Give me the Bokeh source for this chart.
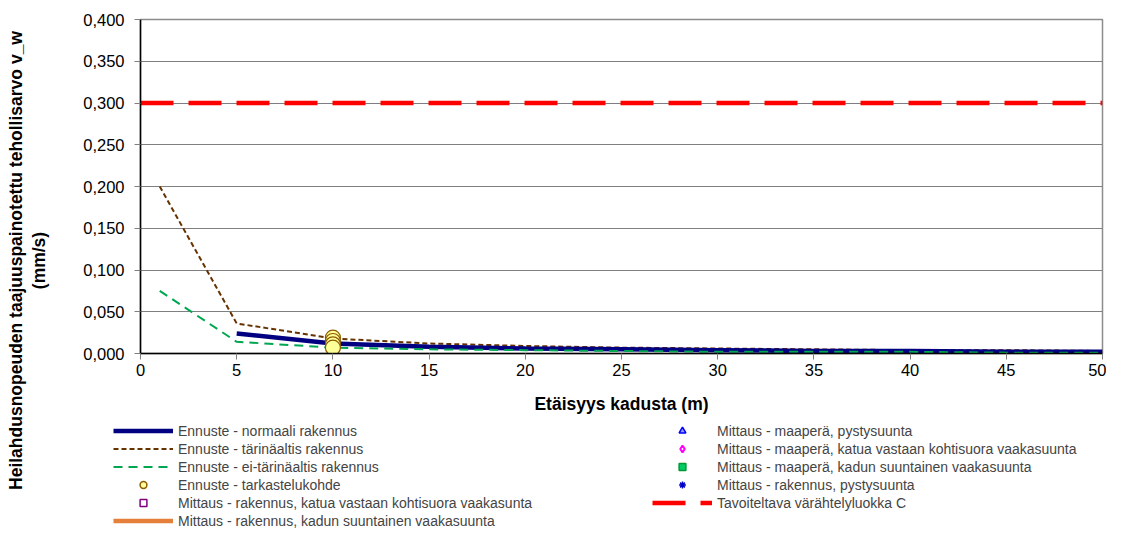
import math
import numpy as np
from bokeh.plotting import figure
from bokeh.layouts import row, column
from bokeh.models import (Range1d, FixedTicker, CustomJSTickFormatter, Legend, LegendItem, Label)
from bokeh.embed import file_html
from bokeh.resources import INLINE

# ---------------- data ----------------
x_pts = [1, 5, 10, 15, 20, 25, 30, 35, 40, 45, 50]
tarinaaltis = [0.200, 0.036, 0.018, 0.012, 0.009, 0.007, 0.006, 0.005, 0.004, 0.004, 0.003]
ei_tarinaaltis = [0.075, 0.014, 0.007, 0.005, 0.004, 0.003, 0.002, 0.002, 0.002, 0.001, 0.001]
normaali_x = [5, 10, 15, 20, 25, 30, 35, 40, 45, 50]
normaali = [0.024, 0.012, 0.008, 0.006, 0.005, 0.004, 0.003, 0.003, 0.002, 0.002]
kohde_x = [10, 10, 10, 10]
kohde_y = [0.019, 0.015, 0.011, 0.007]
tavoite_x = [0, 50]
tavoite_y = [0.3, 0.3]
# measurement series (no points visible in the chart)
maapera_pysty_x, maapera_pysty_y = [], []
maapera_kohtisuora_x, maapera_kohtisuora_y = [], []
maapera_suuntainen_x, maapera_suuntainen_y = [], []
rakennus_pysty_x, rakennus_pysty_y = [], []
rakennus_kohtisuora_x, rakennus_kohtisuora_y = [], []
rakennus_suuntainen_x, rakennus_suuntainen_y = [], []

x_ticks = [0, 5, 10, 15, 20, 25, 30, 35, 40, 45, 50]
y_ticks = [0.0, 0.05, 0.1, 0.15, 0.2, 0.25, 0.3, 0.35, 0.4]

x_title = "Etäisyys kadusta (m)"
y_title = "Heilahdusnopeuden taajuuspainotettu tehollisarvo v_w\n(mm/s)"

legend_col1 = ["Ennuste - normaali rakennus",
               "Ennuste - tärinäaltis rakennus",
               "Ennuste - ei-tärinäaltis rakennus",
               "Ennuste - tarkastelukohde",
               "Mittaus - rakennus, katua vastaan kohtisuora vaakasunta",
               "Mittaus - rakennus, kadun suuntainen vaakasuunta"]
legend_col2 = ["Mittaus - maaperä, pystysuunta",
               "Mittaus - maaperä, katua vastaan kohtisuora vaakasuunta",
               "Mittaus - maaperä, kadun suuntainen vaakasuunta",
               "Mittaus - rakennus, pystysuunta",
               "Tavoiteltava värähtelyluokka C"]

FONT = "Liberation Sans"
W_TITLE = 58
W_MAIN = 1106 - W_TITLE
H_MAIN = 420
H_LEG = 529 - H_MAIN

# styles
S_TAV = dict(line_color="#ff0000", line_width=4.5, line_dash="33 15")
S_TAR = dict(line_color="#663300", line_width=2, line_dash="5 3")
S_NORM = dict(line_color="#000080", line_width=4.5)
S_EI = dict(line_color="#00a650", line_width=2, line_dash="9 6")
S_RKS = dict(line_color="#e5803a", line_width=4.5)
S_KOH_LEG = dict(marker="circle", size=7, fill_color="#ffff99", line_color="#8c5a00", line_width=1.5)
S_MPP = dict(marker="triangle", size=8, fill_color="#9999ff", line_color="#0000ff", line_width=1.5)
S_MPK = dict(marker="diamond", size=11, fill_color="white", line_color="#ff00ff", line_width=2)
S_MPS = dict(marker="square", size=7, fill_color="#00cc66", line_color="#009933", line_width=1.5)
S_RKP = dict(marker="asterisk", size=9, line_color="#0000cc", line_width=1.5)
S_RKK = dict(marker="square", size=7, fill_color="white", line_color="#800080", line_width=1.5)

# ---------------- main plot ----------------
p = figure(width=W_MAIN, height=H_MAIN, output_backend="svg", toolbar_location=None,
           x_range=Range1d(0, 50), y_range=Range1d(0, 0.4),
           min_border_left=140 - W_TITLE, min_border_right=4, min_border_top=19,
           min_border_bottom=H_MAIN - 353)
p.frame_align = False
p.background_fill_color = "white"
p.border_fill_color = "white"
p.outline_line_color = "#8c8c8c"
p.outline_line_width = 1.5

p.xgrid.visible = False
p.ygrid.grid_line_color = "#808080"
p.ygrid.grid_line_width = 1

p.xaxis.ticker = FixedTicker(ticks=x_ticks)
p.yaxis.ticker = FixedTicker(ticks=y_ticks)
p.yaxis.formatter = CustomJSTickFormatter(code="return tick.toFixed(3).replace('.', ',');")
for ax in (p.xaxis, p.yaxis):
    ax.axis_line_color = "black"
    ax.axis_line_width = 1.5
    ax.major_tick_line_color = "#808080"
    ax.major_tick_out = 6
    ax.major_tick_in = 0
    ax.minor_tick_line_color = None
    ax.major_label_text_font = FONT
    ax.major_label_text_font_size = "16.5px"
    ax.major_label_text_color = "black"
p.yaxis.major_label_standoff = 10
p.xaxis.major_label_standoff = 4
p.xaxis.axis_label = x_title
p.xaxis.axis_label_text_font = FONT
p.xaxis.axis_label_text_font_size = "17.5px"
p.xaxis.axis_label_text_font_style = "bold"
p.xaxis.axis_label_text_color = "black"
p.xaxis.axis_label_standoff = 15

p.line(tavoite_x, tavoite_y, **S_TAV)
p.line(x_pts, tarinaaltis, **S_TAR)
p.line(normaali_x, normaali, **S_NORM)
p.line(x_pts, ei_tarinaaltis, **S_EI)
p.scatter(kohde_x, kohde_y, size=15, marker="circle", fill_color="#ffff99",
          line_color="#8c5a00", line_width=1.2)
p.scatter(maapera_pysty_x, maapera_pysty_y, **S_MPP)
p.scatter(maapera_kohtisuora_x, maapera_kohtisuora_y, **S_MPK)
p.scatter(maapera_suuntainen_x, maapera_suuntainen_y, **S_MPS)
p.scatter(rakennus_pysty_x, rakennus_pysty_y, **S_RKP)
p.scatter(rakennus_kohtisuora_x, rakennus_kohtisuora_y, **S_RKK)
p.line(rakennus_suuntainen_x, rakennus_suuntainen_y, **S_RKS)

# ---------------- legend figure (legend keys only; placeholder rows are NaN, not drawn) ----------------
lf = figure(width=W_MAIN, height=H_LEG, output_backend="svg", toolbar_location=None,
            x_axis_location=None, y_axis_location=None,
            x_range=Range1d(0, 1), y_range=Range1d(0, 1),
            min_border_left=0, min_border_right=0, min_border_top=0, min_border_bottom=0)
lf.frame_align = False
lf.outline_line_color = None
lf.xgrid.visible = False
lf.ygrid.visible = False

nan1 = np.array([np.nan])
l_norm = lf.line(nan1, nan1, **S_NORM)
l_tar = lf.line(nan1, nan1, **S_TAR)
l_ei = lf.line(nan1, nan1, **S_EI)
l_koh = lf.scatter(nan1, nan1, **S_KOH_LEG)
l_rkk = lf.scatter(nan1, nan1, **S_RKK)
l_rks = lf.line(nan1, nan1, **S_RKS)
l_mpp = lf.scatter(nan1, nan1, **S_MPP)
l_mpk = lf.scatter(nan1, nan1, **S_MPK)
l_mps = lf.scatter(nan1, nan1, **S_MPS)
l_rkp = lf.scatter(nan1, nan1, **S_RKP)
l_tav = lf.line(nan1, nan1, **S_TAV)

ROW = 17
SP = 1

def make_legend(labels, rends, loc):
    return Legend(items=[LegendItem(label=t, renderers=[r]) for t, r in zip(labels, rends)],
                  location=loc, orientation="vertical",
                  glyph_width=60, glyph_height=ROW, label_height=ROW, spacing=SP,
                  padding=0, margin=0, label_standoff=5,
                  label_text_font=FONT, label_text_font_size="14px",
                  border_line_alpha=0, background_fill_alpha=0)

n1 = len(legend_col1)
n2 = len(legend_col2)
h1 = n1 * ROW + (n1 - 1) * SP
h2 = n2 * ROW + (n2 - 1) * SP
top_gap = 2
leg1 = make_legend(legend_col1, [l_norm, l_tar, l_ei, l_koh, l_rkk, l_rks],
                   (113 - W_TITLE, H_LEG - top_gap - h1))
leg2 = make_legend(legend_col2, [l_mpp, l_mpk, l_mps, l_rkp, l_tav],
                   (652 - W_TITLE, H_LEG - top_gap - h2))
lf.add_layout(leg1, "center")
lf.add_layout(leg2, "center")

# ---------------- y title figure ----------------
tf = figure(width=W_TITLE, height=529, output_backend="svg", toolbar_location=None,
            x_axis_location=None, y_axis_location=None,
            x_range=Range1d(0, 1), y_range=Range1d(0, 1),
            min_border_left=0, min_border_right=0, min_border_top=0, min_border_bottom=0)
tf.frame_align = False
tf.outline_line_color = None
tf.xgrid.visible = False
tf.ygrid.visible = False
tf.add_layout(Label(x=27, y=529 - 260, x_units="screen", y_units="screen", text=y_title,
                    angle=math.pi / 2, text_font=FONT, text_font_size="17.5px",
                    text_font_style="bold", text_align="center", text_baseline="middle",
                    text_line_height=1.15, text_color="black"))

layout = row(tf, column(p, lf, spacing=0), spacing=0)
open("out.html", "w").write(file_html(layout, INLINE))
